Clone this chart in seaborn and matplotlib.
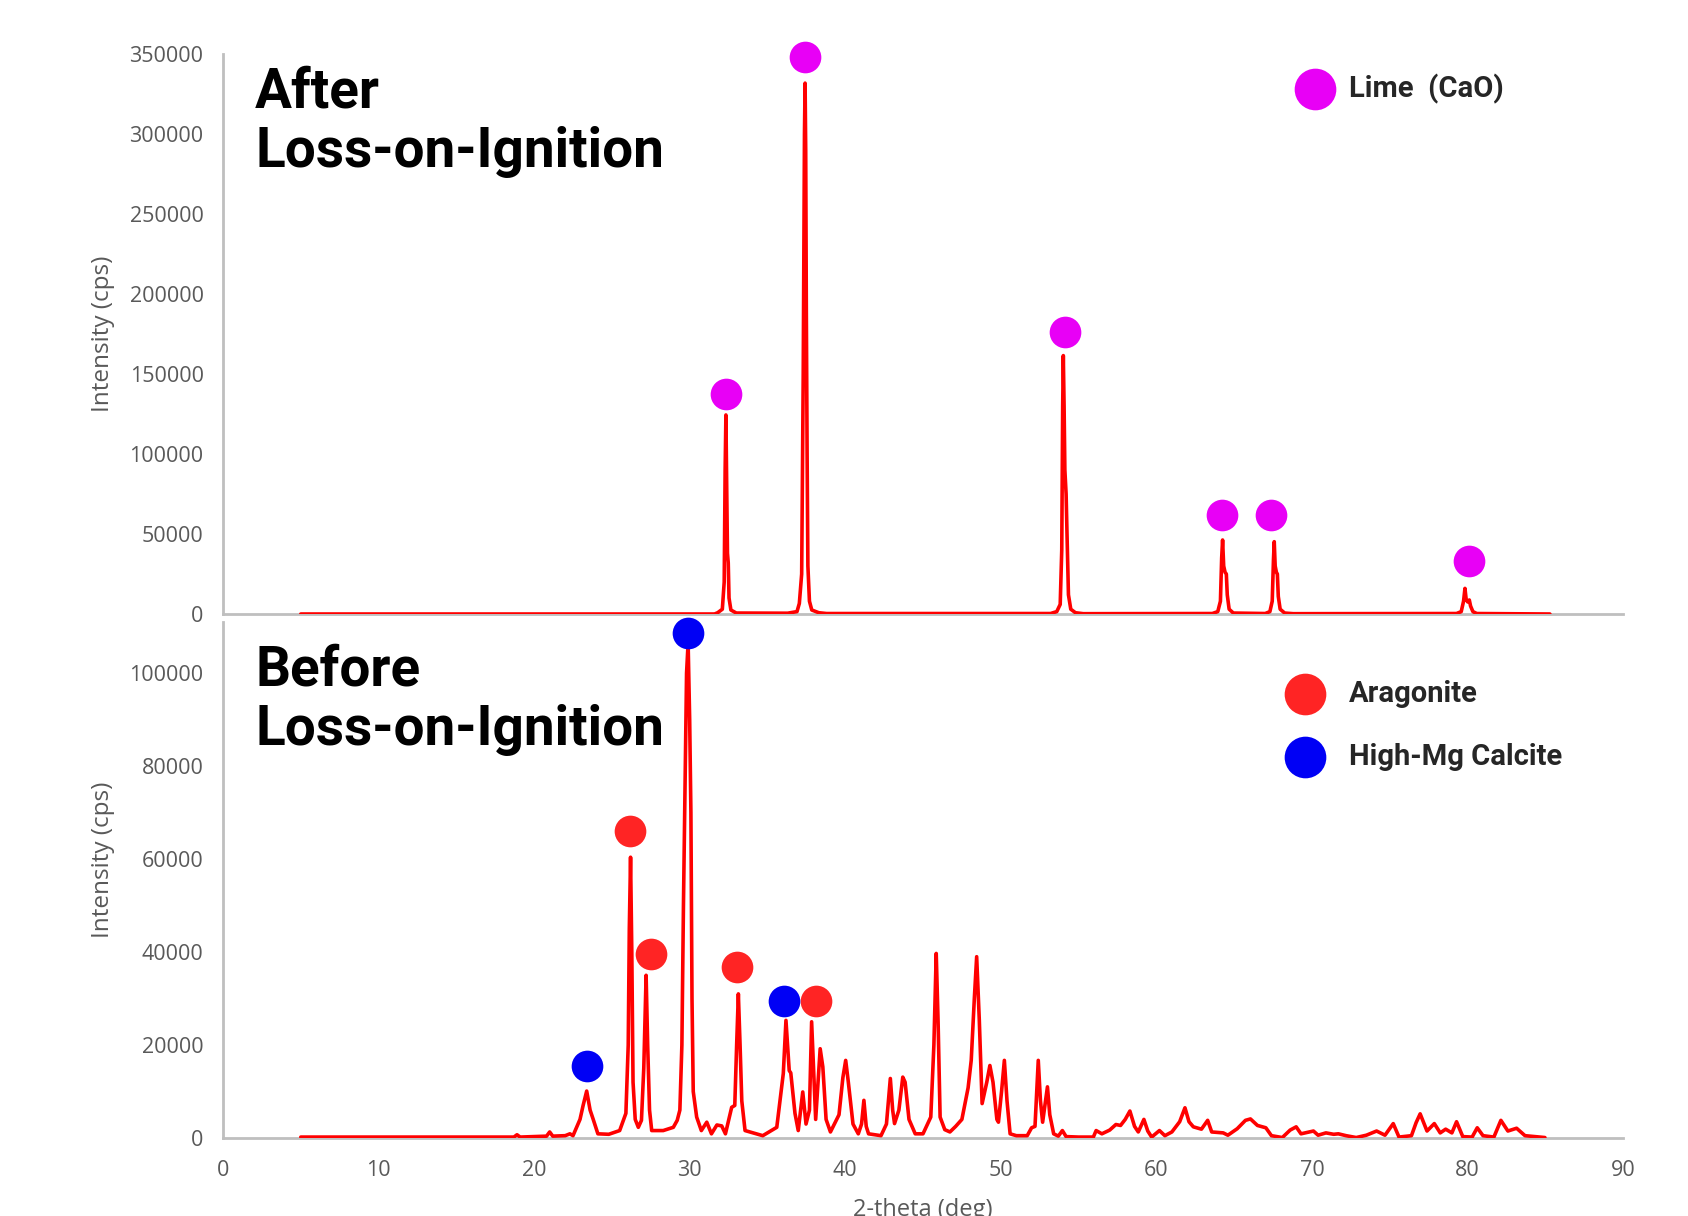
import matplotlib
matplotlib.use("Agg")
import matplotlib.pyplot as plt
import seaborn as sns
import pandas as pd
from matplotlib.ticker import FuncFormatter

# ---------------- data ----------------
after_x = [5.0, 31.6, 31.8, 32.1, 32.22, 32.28, 32.33, 32.38, 32.43, 32.48, 32.53, 32.65, 33.0,
           36.3, 36.9, 37.05, 37.2, 37.3, 37.38, 37.42, 37.46, 37.5, 37.55, 37.6, 37.7, 37.85, 38.3, 38.8,
           53.2, 53.6, 53.82, 53.92, 53.98, 54.02, 54.07, 54.12, 54.2, 54.27, 54.35, 54.5, 54.8, 55.3,
           63.6, 63.95, 64.12, 64.2, 64.26, 64.33, 64.42, 64.5, 64.56, 64.68, 64.95,
           67.0, 67.3, 67.45, 67.53, 67.58, 67.64, 67.72, 67.78, 67.84, 67.96, 68.25, 68.8,
           79.3, 79.6, 79.75, 79.84, 79.92, 80.02, 80.12, 80.2, 80.35, 80.6, 85.3]
after_y = [0, 0, 800, 3000, 20000, 90000, 124400, 80000, 38000, 32000, 10000, 2500, 600,
           500, 1500, 6600, 25000, 150000, 300000, 331800, 290000, 190000, 100000, 30000, 8000, 2500, 800, 300,
           300, 1500, 6000, 40000, 130000, 161500, 130000, 90000, 75000, 45000, 12000, 3000, 800, 200,
           300, 1500, 8000, 35000, 46250, 30000, 26000, 25000, 12000, 3000, 600,
           300, 1500, 8000, 34000, 45200, 30000, 26000, 25000, 11000, 3000, 600, 200,
           300, 1500, 8000, 16000, 9000, 7500, 8750, 5000, 1500, 300, 0]

before_x = [5.0, 18.7, 18.9, 19.1, 20.8, 21.0, 21.2, 22.0, 22.3, 22.5, 22.95, 23.15, 23.38, 23.6, 23.8,
            24.1, 24.8, 25.5, 25.9, 26.05, 26.12, 26.2, 26.28, 26.36, 26.5, 26.7, 26.9, 27.05, 27.2,
            27.3, 27.42, 27.56, 28.3, 28.95, 29.2, 29.37, 29.5, 29.6, 29.7, 29.8, 29.9, 30.0, 30.08,
            30.15, 30.23, 30.45, 30.75, 31.1, 31.4, 31.75, 32.06, 32.3, 32.7, 32.9, 33.02, 33.13,
            33.24, 33.35, 33.56, 34.7, 35.6, 36.02, 36.19, 36.4, 36.5, 36.77, 36.98, 37.27, 37.48,
            37.7, 37.84, 38.1, 38.39, 38.56, 38.77, 39.05, 39.6, 39.85, 40.03, 40.2, 40.5, 40.84,
            41.05, 41.2, 41.35, 41.5, 42.3, 42.65, 42.9, 43.05, 43.17, 43.45, 43.7, 43.85, 44.1,
            44.5, 45.0, 45.5, 45.7, 45.85, 45.97, 46.1, 46.4, 46.73, 47.1, 47.5, 47.9, 48.1, 48.3,
            48.45, 48.62, 48.8, 49.1, 49.3, 49.5, 49.75, 49.85, 50.05, 50.23, 50.4, 50.6, 51.0,
            51.7, 51.98, 52.2, 52.41, 52.55, 52.69, 53.0, 53.15, 53.4, 53.7, 53.96, 54.2, 55.0,
            55.95, 56.13, 56.5, 57.0, 57.4, 57.7, 58.0, 58.3, 58.6, 58.84, 59.2, 59.45, 59.7,
            60.2, 60.55, 61.0, 61.5, 61.84, 62.1, 62.38, 62.9, 63.3, 63.56, 64.3, 64.6, 65.2,
            65.73, 66.05, 66.5, 67.04, 67.4, 68.1, 68.6, 68.99, 69.3, 70.1, 70.4, 70.9, 71.4,
            71.7, 72.2, 72.85, 73.5, 74.16, 74.7, 75.23, 75.6, 76.4, 76.7, 76.96, 77.4, 77.87,
            78.25, 78.6, 79.0, 79.3, 79.7, 80.3, 80.63, 81.0, 81.7, 82.15, 82.6, 83.16, 83.7, 84.98]
before_y = [200, 200, 700, 200, 400, 1300, 400, 500, 900, 500, 4000, 7000, 10100, 6000, 4000,
            900, 800, 1600, 5300, 20000, 45000, 60400, 40000, 12000, 4000, 2300, 3800, 15000, 35000,
            20000, 6000, 1600, 1600, 2300, 3800, 6000, 20000, 50000, 75000, 100000, 106500, 90000, 70000,
            30000, 10000, 4500, 1600, 3400, 900, 2800, 2600, 900, 6600, 7000, 20000, 31000,
            20000, 8000, 1600, 500, 2300, 13900, 25300, 14500, 14000, 5300, 1600, 9900, 3000,
            6000, 25000, 4000, 19200, 15300, 4000, 1300, 5000, 13000, 16700, 12000, 3000, 900,
            3000, 8100, 2500, 900, 500, 3000, 12800, 6000, 3100, 6000, 13100, 12000, 4000,
            900, 900, 4500, 20000, 39700, 25000, 4500, 1800, 1300, 2500, 4000, 10800, 16700, 30000,
            39000, 25300, 7400, 12000, 15600, 12000, 4000, 3400, 10000, 16700, 8000, 900, 500,
            500, 2200, 2500, 16700, 8000, 3400, 11000, 5000, 900, 400, 1600, 300, 200,
            200, 1600, 900, 1700, 2900, 2700, 4000, 5800, 2500, 1300, 4000, 1500, 200,
            1600, 500, 1300, 3500, 6500, 3500, 2400, 1900, 3800, 1300, 1100, 600, 2000,
            3800, 4100, 2700, 2200, 500, 100, 1700, 2400, 900, 1500, 600, 1100, 800,
            900, 500, 100, 600, 1500, 600, 3100, 200, 500, 3300, 5200, 1500, 3100,
            1100, 1900, 1100, 3500, 300, 200, 2200, 500, 200, 3800, 1500, 2100, 500, 100]

lime_x = [32.33, 37.42, 54.1, 64.2, 67.4, 80.1]
lime_y = [137300, 348000, 176500, 61900, 61900, 33100]
arag_x = [26.16, 27.51, 33.06, 38.13]
arag_y = [66100, 39500, 36700, 29400]
calc_x = [23.38, 29.89, 36.07]
calc_y = [15400, 108700, 29400]

x_ticks = [0, 10, 20, 30, 40, 50, 60, 70, 80, 90]
top_yticks = [0, 50000, 100000, 150000, 200000, 250000, 300000, 350000]
bot_yticks = [0, 20000, 40000, 60000, 80000, 100000]

# ---------------- style ----------------
sns.set_theme(style="white")
plt.rcParams["font.family"] = ["Open Sans", "DejaVu Sans"]

LINE_RED = "#FF0000"
MAG = "#E800F6"
ARAG = "#FF2424"
CALC = "#0000F5"
AXIS_GRAY = "#BFBFBF"
TEXT_GRAY = "#595959"
BOLD_FONT = ["Roboto", "DejaVu Sans"]

fig = plt.figure(figsize=(16.88, 12.16), dpi=100)
W, H = 1688, 1216
ax_top = fig.add_axes([223 / W, 1 - 614 / H, 1400 / W, 560 / H])
ax_bot = fig.add_axes([223 / W, 1 - 1138 / H, 1400 / W, 516 / H])

df_after = pd.DataFrame({"x": after_x, "y": after_y})
df_before = pd.DataFrame({"x": before_x, "y": before_y})

sns.lineplot(data=df_after, x="x", y="y", ax=ax_top, color=LINE_RED, linewidth=2.6,
             estimator=None, sort=False, zorder=3)
sns.lineplot(data=df_before, x="x", y="y", ax=ax_bot, color=LINE_RED, linewidth=2.6,
             estimator=None, sort=False, zorder=3)

msize = 520
sns.scatterplot(x=lime_x, y=lime_y, ax=ax_top, color=MAG, s=msize, linewidth=0,
                zorder=5, clip_on=False)
sns.scatterplot(x=arag_x, y=arag_y, ax=ax_bot, color=ARAG, s=msize, linewidth=0,
                zorder=5, clip_on=False)
sns.scatterplot(x=calc_x, y=calc_y, ax=ax_bot, color=CALC, s=msize, linewidth=0,
                zorder=5, clip_on=False)

fmt = FuncFormatter(lambda v, p: f"{int(round(v))}")
for ax, ylim, yt in [(ax_top, (0, 350000), top_yticks), (ax_bot, (0, 111000), bot_yticks)]:
    ax.set_xlim(0, 90)
    ax.set_ylim(*ylim)
    ax.set_yticks(yt)
    ax.yaxis.set_major_formatter(fmt)
    ax.set_xticks(x_ticks)
    for s in ["top", "right"]:
        ax.spines[s].set_visible(False)
    for s in ["left", "bottom"]:
        ax.spines[s].set_color(AXIS_GRAY)
        ax.spines[s].set_linewidth(2)
    ax.tick_params(axis="both", length=0, labelsize=15.5, labelcolor=TEXT_GRAY)
    ax.tick_params(axis="y", pad=14)
    ax.tick_params(axis="x", pad=16)
    ax.set_ylabel("Intensity (cps)", fontsize=17.5, color=TEXT_GRAY)
    ax.set_facecolor("none")

ax_top.set_xlabel("")
ax_top.tick_params(axis="x", labelbottom=False)
ax_bot.set_xlabel("2-theta (deg)", fontsize=17, color=TEXT_GRAY, labelpad=12)
ax_top.yaxis.set_label_coords(-0.077, 0.5)
ax_bot.yaxis.set_label_coords(-0.077, 0.54)

# panel titles
ax_top.text(0.0229, 0.878, "After\nLoss-on-Ignition", transform=ax_top.transAxes,
            fontsize=39.5, fontweight="bold", family=BOLD_FONT, color="black",
            ha="left", va="center", linespacing=1.18)
ax_bot.text(0.0229, 0.848, "Before\nLoss-on-Ignition", transform=ax_bot.transAxes,
            fontsize=39.5, fontweight="bold", family=BOLD_FONT, color="black",
            ha="left", va="center", linespacing=1.18)

# legends
ax_top.scatter([0.780], [0.938], s=900, color=MAG, linewidth=0, transform=ax_top.transAxes,
               clip_on=False, zorder=6)
ax_top.text(0.804, 0.938, "Lime  (CaO)", transform=ax_top.transAxes, fontsize=21,
            fontweight="bold", family=BOLD_FONT, ha="left", va="center")
ax_bot.scatter([0.7726], [0.860], s=900, color=ARAG, linewidth=0, transform=ax_bot.transAxes,
               clip_on=False, zorder=6)
ax_bot.text(0.804, 0.860, "Aragonite", transform=ax_bot.transAxes, fontsize=21,
            fontweight="bold", family=BOLD_FONT, ha="left", va="center")
ax_bot.scatter([0.7726], [0.739], s=900, color=CALC, linewidth=0, transform=ax_bot.transAxes,
               clip_on=False, zorder=6)
ax_bot.text(0.804, 0.739, "High-Mg Calcite", transform=ax_bot.transAxes, fontsize=21,
            fontweight="bold", family=BOLD_FONT, ha="left", va="center")

fig.savefig("out.png", dpi=100, facecolor="white")
